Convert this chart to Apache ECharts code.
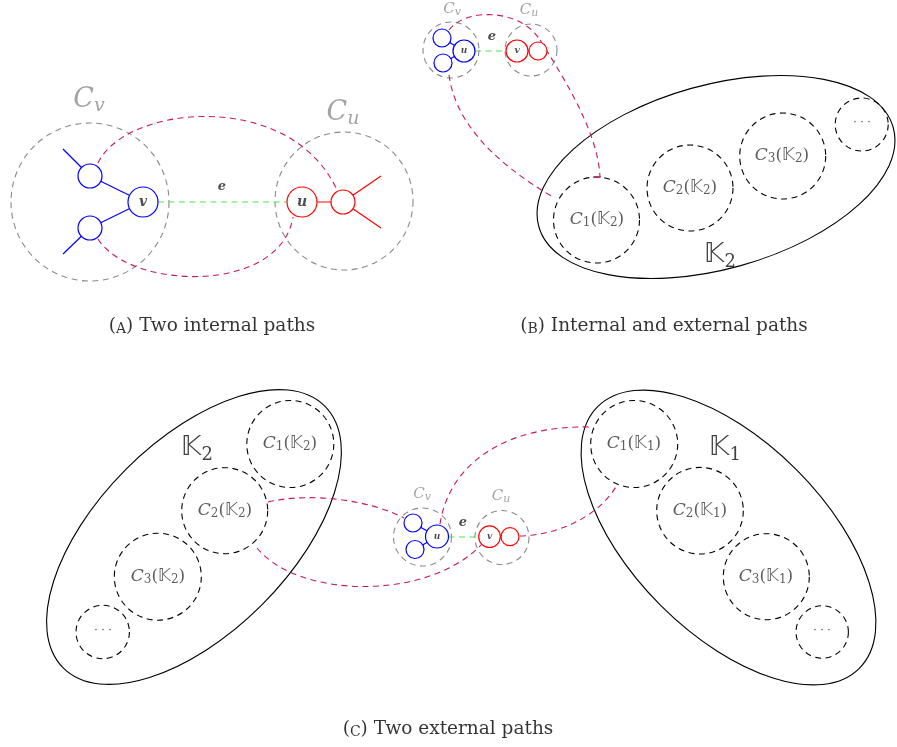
<!DOCTYPE html>
<html><head><meta charset="utf-8">
<script src="https://cdn.jsdelivr.net/npm/echarts@6/dist/echarts.min.js"></script>
<style>html,body{margin:0;padding:0;background:#fff}#c{width:897px;height:747px}</style>
</head><body><div id="c"></div><script>
// ---------- data (diagram coordinates, 1 unit = 1 px of the 897x747 canvas) ----------
const clusterCircles = [ // [cx, cy, r]  dashed grey C_v / C_u
  [90,202,79],[344,201,69],
  [451,50,28],[531,50,26],
  [422.5,537,29],[502,537.5,27]
];
const blueNodes = [
  [143,202,15],[90,176,12],[90,228,12],
  [464,51,11],[442,38,9],[443,63,9],
  [437,536.5,11.5],[413,523,9],[415,549.5,9]
];
const redNodes = [
  [302,202,15],[343,202,12],
  [517,51,11],[538,51,9],
  [489.5,536.7,10.8],[510,536.7,9]
];
const componentCircles = [ // dashed black C_i(K)
  [596.5,220,43],[690,188,43],[782.7,156,43],[861.7,124.5,26.5],
  [290.3,444,43.5],[224.7,510.7,43],[157.8,576.7,43.5],[102.7,632,26.7],
  [634.2,444,43.5],[700,510.7,43.3],[766.3,576.7,43],[822.2,632,26.2]
];
const graphEllipses = [ // [cx, cy, rx, ry, angleDeg]
  [716,177,184,92,15.6],
  [194,537,185,96,45],
  [728.5,537.5,185,96,-45]
];
const blueEdges = [
  [90,176,143,202],[90,228,143,202],[90,176,63,149],[90,228,63,254],
  [442,38,464,51],[443,63,464,51],
  [413,523,437,536.5],[415,549.5,437,536.5]
];
const redEdges = [
  [302,202,343,202],[343,202,381,176],[343,202,381,228],
  [517,51,538,51],
  [489.5,536.7,510,536.7]
];
const edgeE = [[158,202,287,202],[475,51,506,51],[448.5,537,478.7,537]];
const pathCurves = [ // cubic bezier [x0,y0,cx1,cy1,cx2,cy2,x1,y1]
  [98,163,125,105,290,88,337,190],
  [98,239,130,290,280,295,293,217],
  [449,30,465,8,520,8,540,40],
  [540,40,560,72,598,130,600,177],
  [449,75,455,120,490,160,553,197],
  [268,502,310,492,370,500,404,518],
  [257,548,300,600,430,600,482,544],
  [440,524,450,460,510,425,591,427],
  [520,536,560,535,600,515,617,485]
];
const pathTicks = [[593,177,601,177]];

const clusterNamesLarge = [[89,101,'v'],[343,114,'u']];
const clusterNamesSmall = [[452,10,'v'],[529,11,'u'],[422,495,'v'],[501,497,'u']];
const nodeNamesLarge = [[143,202,'v'],[302,202,'u']];
const nodeNamesSmall = [[464,51,'u'],[517,51,'v'],[437,537,'u'],[489.5,537,'v']];
const edgeNames = [[222,187,'e'],[492,37,'e'],[463,523,'e']];
const componentNames = [ // [x, y, index, graph]
  [597,220,'1','2'],[690,188,'2','2'],[782,156,'3','2'],
  [290,444,'1','2'],[225,511,'2','2'],[158,577,'3','2'],
  [634,444,'1','1'],[700,511,'2','1'],[766,577,'3','1']
];
const moreNames = [[862,123,'· · ·'],[103,631,'· · ·'],[822,631,'· · ·']];
const graphNames = [[720,256,'2'],[197,449,'2'],[725,449,'1']];
const captions = [[212,325,'A','Two internal paths'],[664,325,'B','Internal and external paths'],[448,728,'C','Two external paths']];

// ---------- rendering ----------
const SERIF = 'DejaVu Serif, Liberation Serif, serif';
const DS = 'DejaVu Sans, DejaVu Serif, sans-serif';
const MAGENTA = '#c8175a';

function circleSeries(data, style, z){
  return {type:'custom', coordinateSystem:'cartesian2d', data, z, silent:true, clip:false,
    encode:{x:0,y:1},
    renderItem(p, api){
      const c = api.coord([api.value(0), api.value(1)]);
      const r = api.size([api.value(2), 0])[0];
      return {type:'circle', shape:{cx:c[0], cy:c[1], r}, style};
    }};
}
function lineSeries(data, style, z){
  return {type:'custom', coordinateSystem:'cartesian2d', data, z, silent:true, clip:false,
    encode:{x:[0,2],y:[1,3]},
    renderItem(p, api){
      const a = api.coord([api.value(0), api.value(1)]);
      const b = api.coord([api.value(2), api.value(3)]);
      return {type:'line', shape:{x1:a[0],y1:a[1],x2:b[0],y2:b[1]}, style};
    }};
}
function curveSeries(data, style, z){
  return {type:'custom', coordinateSystem:'cartesian2d', data, z, silent:true, clip:false,
    encode:{x:[0,6],y:[1,7]},
    renderItem(p, api){
      const q = [0,2,4,6].map(i => api.coord([api.value(i), api.value(i+1)]));
      return {type:'bezierCurve', shape:{x1:q[0][0],y1:q[0][1],cpx1:q[1][0],cpy1:q[1][1],
        cpx2:q[2][0],cpy2:q[2][1],x2:q[3][0],y2:q[3][1]}, style};
    }};
}
function ellipseSeries(data, style, z){
  return {type:'custom', coordinateSystem:'cartesian2d', data, z, silent:true, clip:false,
    encode:{x:0,y:1},
    renderItem(p, api){
      const c = api.coord([api.value(0), api.value(1)]);
      const s = api.size([api.value(2), api.value(3)]);
      return {type:'ellipse', x:c[0], y:c[1], rotation: api.value(4)*Math.PI/180,
        shape:{cx:0, cy:0, rx:s[0], ry:s[1]}, style};
    }};
}
function labelSeries(data, formatter, label, z){
  return {type:'scatter', data, symbolSize:0, z, silent:true, clip:false,
    label:Object.assign({show:true, position:'inside', formatter}, label)};
}
// main token: top-aligned; subscript token: bottom-aligned with a small line height -> lowered
function mainTok(font, size, color, lh, style){ return {fontFamily:font, fontStyle:style||'normal', fontSize:size, color, lineHeight:lh, verticalAlign:'top'}; }
function subTok(font, size, color, lh, style){ return {fontFamily:font, fontStyle:style||'normal', fontSize:size, color, lineHeight:lh, verticalAlign:'bottom'}; }

const GREY = '#8c8c8c', INK = '#222';
const series = [
  ellipseSeries(graphEllipses, {fill:'none', stroke:'#000', lineWidth:1.1}, 1),
  circleSeries(componentCircles, {fill:'none', stroke:'#000', lineWidth:1.1, lineDash:[6,4.5]}, 2),
  circleSeries(clusterCircles, {fill:'none', stroke:'#8a8a8a', lineWidth:1.1, lineDash:[6,4.5]}, 2),
  curveSeries(pathCurves, {fill:'none', stroke:MAGENTA, lineWidth:1.1, lineDash:[6,4.5]}, 3),
  lineSeries(pathTicks, {stroke:MAGENTA, lineWidth:1.1}, 3),
  lineSeries(edgeE, {stroke:'#55e055', lineWidth:1.2, lineDash:[6,4.5]}, 4),
  lineSeries(blueEdges, {stroke:'#0000ff', lineWidth:1.2}, 4),
  lineSeries(redEdges, {stroke:'#ff0000', lineWidth:1.2}, 4),
  circleSeries(blueNodes, {fill:'#fff', stroke:'#0000ff', lineWidth:1.2}, 5),
  circleSeries(redNodes, {fill:'#fff', stroke:'#ff0000', lineWidth:1.2}, 5),

  labelSeries(clusterNamesLarge, p => '{c|C}{s|' + p.value[2] + '}', {rich:{
    c: mainTok(SERIF, 27, GREY, 30, 'italic'),
    s: subTok(SERIF, 19, GREY, 16, 'italic')
  }}, 6),
  labelSeries(clusterNamesSmall, p => '{c|C}{s|' + p.value[2] + '}', {rich:{
    c: mainTok(SERIF, 15, GREY, 16, 'italic'),
    s: subTok(SERIF, 11, GREY, 7, 'italic')
  }}, 6),
  labelSeries(nodeNamesLarge, p => p.value[2], {fontFamily:SERIF, fontStyle:'italic', fontWeight:'bold', fontSize:14, color:INK}, 6),
  labelSeries(nodeNamesSmall, p => p.value[2], {fontFamily:SERIF, fontStyle:'italic', fontWeight:'bold', fontSize:9, color:INK}, 6),
  labelSeries(edgeNames, p => p.value[2], {fontFamily:SERIF, fontStyle:'italic', fontWeight:'bold', fontSize:13, color:INK}, 6),
  labelSeries(componentNames, p => '{c|C}{s|' + p.value[2] + '}{n|(}{k|𝕂}{s|' + p.value[3] + '}{n|)}', {rich:{
    c: mainTok(SERIF, 17, '#333', 18, 'italic'),
    n: mainTok(SERIF, 17, '#333', 18),
    k: mainTok(DS, 17, '#333', 18),
    s: subTok(SERIF, 12, '#333', 8)
  }}, 6),
  labelSeries(moreNames, p => p.value[2], {fontFamily:SERIF, fontSize:11, color:INK}, 6),
  labelSeries(graphNames, p => '{k|𝕂}{s|' + p.value[2] + '}', {rich:{
    k: mainTok(DS, 27, '#111', 30),
    s: subTok(SERIF, 18, '#111', 20)
  }}, 6),
  labelSeries(captions, p => '{n|(}{sc|' + p.value[2] + '}{n|) ' + p.value[3] + '}', {color:'#000', rich:{
    n:{fontFamily:SERIF, fontSize:18.5, color:'#000', lineHeight:22, verticalAlign:'bottom'},
    sc:{fontFamily:SERIF, fontSize:14, color:'#000', lineHeight:20, verticalAlign:'bottom'}
  }}, 6)
];

const chart = echarts.init(document.getElementById('c'), null, {renderer:'canvas'});
chart.setOption({
  animation:false,
  backgroundColor:'#fff',
  grid:{left:0,right:0,top:0,bottom:0},
  xAxis:{type:'value', min:0, max:897, show:false},
  yAxis:{type:'value', min:0, max:747, inverse:true, show:false},
  series
});
</script></body></html>
